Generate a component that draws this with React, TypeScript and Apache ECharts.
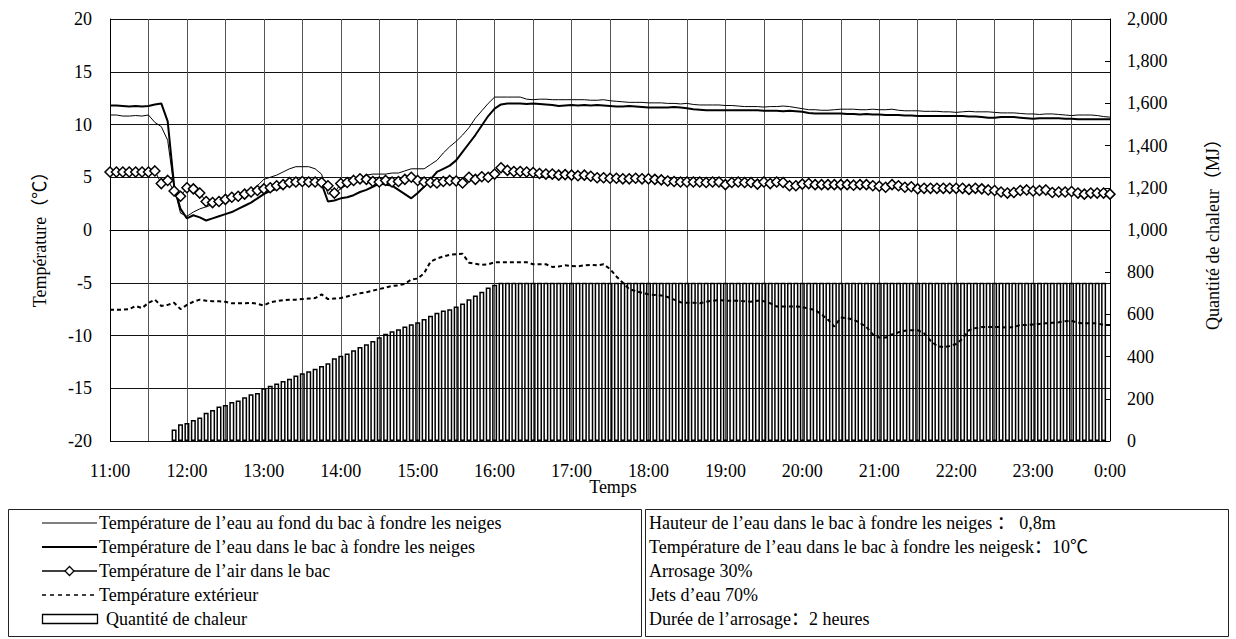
import React, { useEffect, useRef } from "react";
import * as echarts from "echarts";

const HOURS = ["11:00", "12:00", "13:00", "14:00", "15:00", "16:00", "17:00", "18:00", "19:00", "20:00", "21:00", "22:00", "23:00", "0:00"];

const LEFT_TICKS = [-20, -15, -10, -5, 0, 5, 10, 15, 20];
const RIGHT_LABELS: Record<number, string> = { 0: "0", 200: "200", 400: "400", 600: "600", 800: "800", 1000: "1,000", 1200: "1,200", 1400: "1,400", 1600: "1,600", 1800: "1,800", 2000: "2,000" };

const SERIES_NAMES = [
  "Température de l’eau au fond du bac à fondre les neiges",
  "Température de l’eau dans le bac à fondre les neiges",
  "Température de l’air dans le bac",
  "Température extérieur",
  "Quantité de chaleur",
];

const INFO_LINES = [
  "Hauteur de l’eau dans le bac à fondre les neiges ： 0,8m",
  "Température de l’eau dans le bac à fondre les neigesk：10℃",
  "Arrosage 30%",
  "Jets d’eau 70%",
  "Durée de l’arrosage：2 heures",
];

// 5-minute samples from 11:00 (index 0) to 0:00 (index 156)
const WATER_BOTTOM = [
  10.9, 10.9, 10.8, 10.8, 10.85, 10.8, 10.9, 10.2, 9.8, 8.5,
  4.0, 1.6, 1.3, 1.7, 2.0, 2.2, 2.4, 2.6, 2.9, 3.1,
  3.3, 3.5, 3.7, 4.2, 4.8, 5.0, 5.2, 5.5, 5.8, 6.0,
  6.0, 6.0, 5.8, 5.3, 3.4, 3.5, 3.9, 4.3, 4.6, 4.9,
  5.2, 5.3, 5.3, 5.3, 5.4, 5.4, 5.6, 5.8, 5.8, 5.8,
  6.2, 6.6, 7.3, 7.9, 8.4, 9.0, 9.7, 10.6, 11.3, 12.0,
  12.6, 12.6, 12.6, 12.6, 12.6, 12.4, 12.35, 12.4, 12.4, 12.35,
  12.35, 12.35, 12.35, 12.35, 12.35, 12.3, 12.3, 12.35, 12.25, 12.2,
  12.15, 12.1, 12.1, 12.1, 12.05, 12.05, 12.05, 12.0, 12.0, 11.95,
  12.0, 11.9, 11.85, 11.85, 11.85, 11.85, 11.8, 11.8, 11.75, 11.7,
  11.7, 11.7, 11.65, 11.7, 11.7, 11.75, 11.7, 11.6, 11.5, 11.4,
  11.4, 11.35, 11.35, 11.4, 11.45, 11.45, 11.45, 11.4, 11.4, 11.45,
  11.4, 11.4, 11.45, 11.35, 11.3, 11.3, 11.3, 11.25, 11.25, 11.25,
  11.2, 11.2, 11.15, 11.2, 11.25, 11.2, 11.2, 11.2, 11.15, 11.1,
  11.1, 11.1, 11.05, 11.0, 11.0, 10.95, 11.0, 11.0, 10.95, 10.9,
  10.85, 10.9, 10.9, 10.9, 10.85, 10.75, 10.7,
];

const WATER_TANK = [
  11.8, 11.8, 11.75, 11.7, 11.75, 11.7, 11.75, 11.9, 12.0, 10.3,
  4.2, 2.0, 1.1, 1.4, 1.2, 0.9, 1.1, 1.3, 1.5, 1.7,
  2.0, 2.3, 2.6, 3.0, 3.4, 3.7, 3.9, 4.1, 4.3, 4.4,
  4.4, 4.5, 4.5, 4.4, 2.7, 2.8, 3.0, 3.1, 3.3, 3.6,
  3.8, 4.1, 4.4, 4.3, 4.2, 3.8, 3.4, 3.0, 3.5, 4.1,
  4.8, 5.5, 5.8, 6.1, 6.6, 7.4, 8.2, 9.0, 9.9, 10.8,
  11.5, 11.9, 12.0, 12.0, 12.0, 11.95, 12.0, 11.95, 11.9, 11.85,
  11.75, 11.8, 11.85, 11.8, 11.85, 11.8, 11.85, 11.8, 11.75, 11.7,
  11.7, 11.75, 11.7, 11.65, 11.6, 11.6, 11.6, 11.6, 11.65, 11.6,
  11.55, 11.45, 11.4, 11.35, 11.35, 11.35, 11.35, 11.35, 11.35, 11.35,
  11.35, 11.35, 11.3, 11.3, 11.3, 11.25, 11.3, 11.25, 11.2, 11.1,
  11.05, 11.05, 11.05, 11.05, 11.05, 11.0, 11.0, 10.95, 11.0, 10.95,
  10.95, 10.9, 10.9, 10.9, 10.85, 10.85, 10.8, 10.8, 10.8, 10.8,
  10.8, 10.8, 10.8, 10.8, 10.75, 10.75, 10.7, 10.65, 10.65, 10.7,
  10.7, 10.7, 10.65, 10.6, 10.55, 10.6, 10.6, 10.6, 10.6, 10.55,
  10.55, 10.5, 10.5, 10.5, 10.5, 10.5, 10.5,
];

const AIR_TANK = [
  5.5, 5.5, 5.5, 5.5, 5.5, 5.5, 5.5, 5.6, 4.4, 4.7,
  3.7, 3.2, 4.0, 3.9, 3.5, 2.7, 2.6, 2.7, 2.9, 3.1,
  3.2, 3.4, 3.6, 3.75, 3.9, 4.0, 4.2, 4.3, 4.5, 4.55,
  4.6, 4.55, 4.55, 4.5, 4.2, 3.5, 4.4, 4.5, 4.7, 4.85,
  4.8, 4.6, 4.55, 4.7, 4.55, 4.6, 4.8, 5.0, 4.7, 4.55,
  4.5, 4.45, 4.6, 4.7, 4.65, 4.45, 5.0, 4.8, 5.05, 5.0,
  5.3, 5.9, 5.65, 5.55, 5.55, 5.5, 5.45, 5.35, 5.3, 5.3,
  5.2, 5.25, 5.2, 5.15, 5.2, 5.1, 4.95, 4.95, 4.9, 4.9,
  4.85, 4.85, 4.9, 4.85, 4.85, 4.8, 4.75, 4.65, 4.6, 4.55,
  4.55, 4.55, 4.55, 4.5, 4.55, 4.55, 4.3, 4.5, 4.55, 4.5,
  4.5, 4.35, 4.55, 4.4, 4.55, 4.5, 4.2, 4.2, 4.35, 4.4,
  4.3, 4.3, 4.3, 4.3, 4.3, 4.3, 4.25, 4.3, 4.3, 4.2,
  4.15, 4.05, 4.3, 4.2, 4.05, 4.1, 3.9, 3.95, 3.95, 3.95,
  3.95, 3.95, 3.95, 3.95, 3.85, 3.95, 3.9, 3.8, 3.75, 3.6,
  3.5, 3.55, 3.75, 3.8, 3.7, 3.75, 3.8, 3.55, 3.6, 3.6,
  3.65, 3.5, 3.4, 3.5, 3.5, 3.5, 3.4,
];

const OUTDOOR = [
  -7.55, -7.55, -7.55, -7.5, -7.2, -7.4, -6.9, -6.6, -7.2, -7.1,
  -6.9, -7.5, -7.1, -6.8, -6.6, -6.7, -6.75, -6.75, -6.8, -6.95,
  -6.95, -6.95, -6.9, -7.0, -7.15, -6.85, -6.75, -6.65, -6.6, -6.6,
  -6.55, -6.5, -6.45, -6.1, -6.55, -6.5, -6.45, -6.3, -6.15, -6.0,
  -5.9, -5.75, -5.6, -5.45, -5.3, -5.25, -5.1, -4.7, -4.6, -4.1,
  -3.0, -2.7, -2.5, -2.35, -2.3, -2.25, -3.1, -3.2, -3.3, -3.25,
  -3.05, -3.05, -3.05, -3.05, -3.05, -3.05, -3.25, -3.25, -3.25, -3.5,
  -3.45, -3.35, -3.4, -3.45, -3.35, -3.3, -3.35, -3.25, -3.7, -4.4,
  -5.0, -5.6, -5.8, -5.95, -6.1, -6.15, -6.2, -6.35, -6.6, -6.85,
  -6.9, -6.9, -6.95, -6.8, -6.7, -6.65, -6.7, -6.7, -6.7, -6.75,
  -6.8, -6.7, -6.75, -6.95, -7.25, -7.25, -7.25, -7.25, -7.3, -7.45,
  -7.6, -8.0, -8.5, -9.15, -8.3, -8.35, -8.5, -8.8, -9.2, -9.9,
  -10.2, -10.2, -9.9, -9.7, -9.55, -9.5, -9.5, -9.8, -10.5, -11.0,
  -11.1, -11.0, -10.8, -10.3, -9.5, -9.3, -9.2, -9.2, -9.2, -9.2,
  -9.25, -9.2, -9.0, -9.0, -8.95, -8.9, -8.85, -8.8, -8.75, -8.65,
  -8.6, -8.8, -8.85, -8.85, -8.85, -9.0, -9.0,
];

const HEAT = [
  null, null, null, null, null, null, null, null, null, null,
  54, 79, 85, 100, 111, 134, 147, 163, 171, 185,
  192, 207, 222, 228, 250, 262, 272, 284, 295, 310,
  321, 330, 342, 356, 368, 392, 404, 415, 430, 445,
  459, 474, 492, 508, 520, 530, 543, 553, 563, 578,
  594, 608, 618, 625, 638, 652, 672, 690, 707, 727,
  740, 750, 750, 750, 750, 750, 750, 750, 750, 750,
  750, 750, 750, 750, 750, 750, 750, 750, 750, 750,
  750, 750, 750, 750, 750, 750, 750, 750, 750, 750,
  750, 750, 750, 750, 750, 750, 750, 750, 750, 750,
  750, 750, 750, 750, 750, 750, 750, 750, 750, 750,
  750, 750, 750, 750, 750, 750, 750, 750, 750, 750,
  750, 750, 750, 750, 750, 750, 750, 750, 750, 750,
  750, 750, 750, 750, 750, 750, 750, 750, 750, 750,
  750, 750, 750, 750, 750, 750, 750, 750, 750, 750,
  750, 750, 750, 750, 750, 750, null,
];

const SERIF = "'Liberation Serif', 'Times New Roman', 'Noto Sans CJK SC', serif";

const THIN = { color: "#000", width: 1 };
const THICK = { color: "#000", width: 2 };
const DASH = { color: "#000", width: 2, type: [4, 3] as number[] };

export default function App() {
  const ref = useRef<HTMLDivElement>(null);

  useEffect(() => {
    const chart = echarts.init(ref.current!, null, { renderer: "svg" });
    const pts = (arr: (number | null)[]) => arr.map((v, i) => [i, v]);
    const rowY = [523, 547, 571, 595, 619];
    const font = `18px ${SERIF}`;
    const LX0 = 42;
    const LX1 = 97;

    const legendGraphics: any[] = [
      { type: "line", silent: true, shape: { x1: LX0, y1: rowY[0], x2: LX1, y2: rowY[0] }, style: { stroke: "#000", lineWidth: THIN.width } },
      { type: "line", silent: true, shape: { x1: LX0, y1: rowY[1], x2: LX1, y2: rowY[1] }, style: { stroke: "#000", lineWidth: THICK.width } },
      { type: "line", silent: true, shape: { x1: LX0, y1: rowY[2], x2: LX1, y2: rowY[2] }, style: { stroke: "#000", lineWidth: 1.5 } },
      {
        type: "polygon",
        silent: true,
        shape: { points: [[69.5, rowY[2] - 4.5], [74, rowY[2]], [69.5, rowY[2] + 4.5], [65, rowY[2]]] },
        style: { fill: "#fff", stroke: "#000", lineWidth: 1.3 },
        z: 101,
      },
      { type: "line", silent: true, shape: { x1: LX0, y1: rowY[3], x2: LX1, y2: rowY[3] }, style: { stroke: "#000", lineWidth: 1.5, lineDash: [4, 4] } },
      { type: "rect", silent: true, shape: { x: LX0 + 0.5, y: rowY[4] - 4.5, width: LX1 - LX0, height: 9 }, style: { fill: "#fff", stroke: "#000", lineWidth: 1.3 } },
      ...SERIES_NAMES.map((t, k) => ({
        type: "text",
        x: k === 4 ? 106 : 99,
        y: rowY[k],
        silent: true,
        style: { text: t, font, fill: "#000", textAlign: "left", textVerticalAlign: "middle" },
      })),
    ];

    const option: any = {
      animation: false,
      backgroundColor: "#fff",
      textStyle: { fontFamily: SERIF, color: "#000" },
      grid: { left: 110, right: 126, top: 19, bottom: 198, containLabel: false },
      xAxis: {
        type: "value",
        min: 0,
        max: 156,
        interval: 6,
        axisLine: { show: true, lineStyle: { color: "#000", width: 1 } },
        axisTick: { show: false },
        splitLine: { show: true, lineStyle: { color: "#555", width: 1 } },
        axisLabel: {
          margin: 21,
          fontFamily: SERIF,
          fontSize: 18,
          color: "#000",
          formatter: (v: number) => (v % 12 === 0 ? HOURS[v / 12] : ""),
        },
      },
      yAxis: [
        {
          type: "value",
          min: LEFT_TICKS[0],
          max: LEFT_TICKS[LEFT_TICKS.length - 1],
          interval: 5,
          axisLine: { show: true, lineStyle: { color: "#000", width: 1 } },
          axisTick: { show: false },
          splitLine: { show: true, lineStyle: { color: "#111", width: 1 } },
          axisLabel: { margin: 18, fontFamily: SERIF, fontSize: 18, color: "#000" },
        },
        {
          type: "value",
          min: 0,
          max: 2000,
          interval: 200,
          position: "right",
          axisLine: { show: true, lineStyle: { color: "#000", width: 1 } },
          axisTick: { show: true, inside: true, length: 5, lineStyle: { color: "#000" } },
          splitLine: { show: false },
          axisLabel: {
            margin: 17,
            fontFamily: SERIF,
            fontSize: 18,
            color: "#000",
            formatter: (v: number) => RIGHT_LABELS[v] ?? String(v),
          },
        },
      ],
      series: [
        {
          name: SERIES_NAMES[4],
          type: "bar",
          yAxisIndex: 1,
          barWidth: 5,
          data: pts(HEAT),
          itemStyle: { color: "rgba(0,0,0,0)", borderColor: "#000", borderWidth: 1.5 },
          z: 1,
        },
        {
          name: SERIES_NAMES[0],
          type: "line",
          symbol: "none",
          data: pts(WATER_BOTTOM),
          lineStyle: THIN,
          itemStyle: { color: "#000" },
          z: 3,
        },
        {
          name: SERIES_NAMES[1],
          type: "line",
          symbol: "none",
          data: pts(WATER_TANK),
          lineStyle: THICK,
          itemStyle: { color: "#000" },
          z: 3,
        },
        {
          name: SERIES_NAMES[2],
          type: "line",
          symbol: "diamond",
          symbolSize: 10,
          data: pts(AIR_TANK),
          lineStyle: { color: "#000", width: 1 },
          itemStyle: { color: "#fff", borderColor: "#000", borderWidth: 1.5 },
          z: 4,
        },
        {
          name: SERIES_NAMES[3],
          type: "line",
          symbol: "none",
          data: pts(OUTDOOR),
          lineStyle: DASH,
          itemStyle: { color: "#000" },
          z: 3,
        },
      ],
      graphic: [
        {
          type: "text",
          x: 40,
          y: 235,
          rotation: Math.PI / 2,
          silent: true,
          style: { text: "Température（℃）", font, fill: "#000", textAlign: "center", textVerticalAlign: "middle" },
        },
        {
          type: "text",
          x: 1213,
          y: 230,
          rotation: Math.PI / 2,
          silent: true,
          style: { text: "Quantité de chaleur（MJ）", font, fill: "#000", textAlign: "center", textVerticalAlign: "middle" },
        },
        {
          type: "text",
          x: 613,
          y: 487,
          silent: true,
          style: { text: "Temps", font, fill: "#000", textAlign: "center", textVerticalAlign: "middle" },
        },
        {
          type: "rect",
          silent: true,
          shape: { x: 8.5, y: 509.5, width: 633, height: 127 },
          style: { fill: "none", stroke: "#222", lineWidth: 1 },
        },
        {
          type: "rect",
          silent: true,
          shape: { x: 645.5, y: 509.5, width: 583, height: 127 },
          style: { fill: "none", stroke: "#222", lineWidth: 1 },
        },
        ...legendGraphics,
        ...INFO_LINES.map((t, k) => ({
          type: "text",
          x: 649,
          y: rowY[k],
          silent: true,
          style: { text: t, font, fill: "#000", textAlign: "left", textVerticalAlign: "middle" },
        })),
      ],
    };

    chart.setOption(option);
    return () => chart.dispose();
  }, []);

  return <div ref={ref} style={{ position: "absolute", left: 0, top: 0, width: 1236, height: 639 }} />;
}
